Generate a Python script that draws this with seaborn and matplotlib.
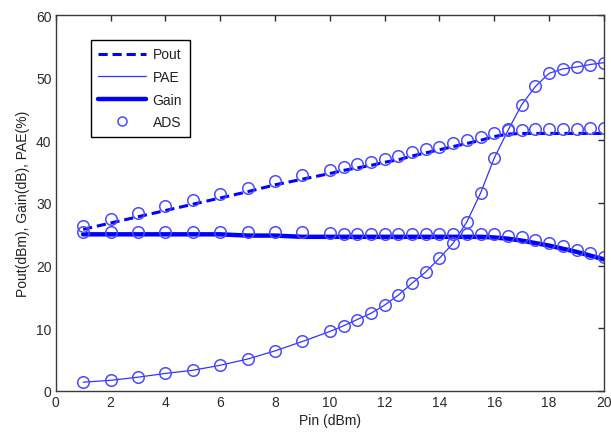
import matplotlib
matplotlib.use("Agg")
import matplotlib.pyplot as plt
import seaborn as sns
import pandas as pd
from matplotlib.lines import Line2D

# ---- data ----
pin = [1, 2, 3, 4, 5, 6, 7, 8, 9,
       10, 10.5, 11, 11.5, 12, 12.5, 13, 13.5, 14, 14.5, 15,
       15.5, 16, 16.5, 17, 17.5, 18, 18.5, 19, 19.5, 20]

pout_ads = [26.4, 27.5, 28.4, 29.5, 30.4, 31.4, 32.4, 33.5, 34.4,
            35.3, 35.8, 36.2, 36.6, 37.1, 37.5, 38.1, 38.6, 39.0, 39.6, 40.1,
            40.6, 41.2, 41.8, 41.7, 41.8, 41.8, 41.8, 41.8, 41.9, 42.0]
pout_sim = [25.8, 26.8, 27.8, 28.8, 29.8, 30.8, 31.8, 32.9, 33.8,
            34.7, 35.2, 35.6, 36.0, 36.5, 36.9, 37.5, 38.0, 38.5, 39.0, 39.5,
            40.0, 40.6, 41.0, 41.1, 41.1, 41.1, 41.1, 41.1, 41.1, 41.1]

gain_ads = [25.4, 25.4, 25.4, 25.4, 25.4, 25.4, 25.3, 25.3, 25.3,
            25.2, 25.0, 25.0, 25.0, 25.0, 25.0, 25.0, 25.0, 25.0, 25.0, 25.0,
            25.0, 25.0, 24.8, 24.5, 24.1, 23.6, 23.1, 22.5, 22.0, 21.4]
gain_sim = [25.0, 25.0, 25.0, 25.0, 25.0, 25.0, 24.8, 24.8, 24.6,
            24.6, 24.6, 24.6, 24.6, 24.6, 24.6, 24.6, 24.6, 24.6, 24.6, 24.6,
            24.6, 24.5, 24.3, 24.0, 23.6, 23.2, 22.7, 22.2, 21.6, 21.0]

pae_ads = [1.4, 1.7, 2.2, 2.8, 3.3, 4.1, 5.1, 6.4, 7.9,
           9.5, 10.4, 11.4, 12.4, 13.7, 15.3, 17.2, 19.0, 21.2, 23.6, 27.0,
           31.6, 37.2, 41.6, 45.7, 48.6, 50.7, 51.4, 51.7, 52.1, 52.4]
pae_sim = pae_ads

x_ticks = [0, 2, 4, 6, 8, 10, 12, 14, 16, 18, 20]
y_ticks = [0, 10, 20, 30, 40, 50, 60]
legend_labels = ["Pout", "PAE", "Gain", "ADS"]

# ---- plot ----
sns.set_style("white")
plt.rcParams['font.family'] = ['Liberation Sans', 'DejaVu Sans']

df = pd.DataFrame({"pin": pin, "pout_sim": pout_sim, "pae_sim": pae_sim,
                   "gain_sim": gain_sim, "pout_ads": pout_ads,
                   "gain_ads": gain_ads, "pae_ads": pae_ads})

fig = plt.figure(figsize=(6.11, 4.35), dpi=100)
ax = fig.add_axes([0.0912, 0.0989, 0.8973, 0.8643])

line_col = "#0000ff"
mk_col = "#4a4aff"

sns.lineplot(data=df, x="pin", y="pout_sim", ax=ax, color=line_col,
             linewidth=2.2, linestyle=(0, (3.0, 1.6)))
sns.lineplot(data=df, x="pin", y="pae_sim", ax=ax, color=line_col, linewidth=0.9, alpha=0.8)
sns.lineplot(data=df, x="pin", y="gain_sim", ax=ax, color=line_col, linewidth=3.2)

for col in ["pout_ads", "gain_ads", "pae_ads"]:
    ax.plot(df["pin"], df[col], linestyle="none", marker="o", markersize=8.3,
            markerfacecolor="none", markeredgecolor=mk_col, markeredgewidth=1.1)

ax.set_xlim(0, 20)
ax.set_ylim(0, 60)
ax.set_xticks(x_ticks)
ax.set_yticks(y_ticks)
ax.tick_params(direction="in", length=4, width=1, top=True, right=True,
               labelsize=10, colors="#2b2b2b", pad=3)
for s in ax.spines.values():
    s.set_color("#3a3a3a")
    s.set_linewidth(1.0)

ax.set_xlabel("Pin (dBm)", fontsize=10, color="#222222", labelpad=3)
ax.set_ylabel("Pout(dBm), Gain(dB), PAE(%)", fontsize=10, color="#222222", labelpad=4)

handles = [
    Line2D([], [], color=line_col, linewidth=2.2, linestyle=(0, (3.0, 1.6))),
    Line2D([], [], color=line_col, linewidth=0.9, alpha=0.8),
    Line2D([], [], color=line_col, linewidth=3.2),
    Line2D([], [], linestyle="none", marker="o", markersize=6.5,
           markerfacecolor="none", markeredgecolor=mk_col, markeredgewidth=1.1),
]
leg = ax.legend(handles, legend_labels, loc="upper left",
                bbox_to_anchor=(0.064, 0.934), fontsize=10,
                frameon=True, fancybox=False, edgecolor="black",
                framealpha=1, handlelength=3.4, handletextpad=0.5,
                labelspacing=0.62, borderpad=0.55, borderaxespad=0)
leg.get_frame().set_linewidth(1.0)
for t in leg.get_texts():
    t.set_color("#222222")

fig.savefig("out.png", dpi=100)
